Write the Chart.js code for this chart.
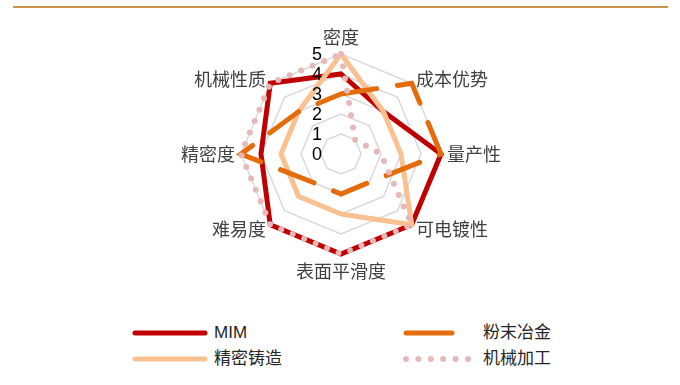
<!DOCTYPE html>
<html>
<head>
<meta charset="utf-8">
<script src="https://cdn.jsdelivr.net/npm/chart.js@4.4.1/dist/chart.umd.min.js"></script>
<style>
  body { margin: 0; background: #fff; }
  #wrap { position: relative; width: 680px; height: 385px; overflow: hidden;
          font-family: "Liberation Sans", "Noto Sans CJK SC", sans-serif; }
  #rule { position: absolute; left: 13px; top: 6px; width: 655px; height: 2px; background: #c9954c; }
  #radar { position: absolute; left: 0; top: 0; }
  .key { position: absolute; }
  .key-text { position: absolute; font-size: 17px; color: #262626; line-height: 20px; white-space: nowrap; }
</style>
</head>
<body>
<div id="wrap">
  <div id="rule"></div>
  <canvas id="radar" width="680" height="310"></canvas>
  <div id="legend"></div>
</div>
<script>
// 8 evaluation dimensions, clockwise from the top
const axisLabels = ['密度', '成本优势', '量产性', '可电镀性', '表面平滑度', '难易度', '精密度', '机械性质'];
const scoreTicks = [0, 1, 2, 3, 4, 5];

const seriesNames = ['MIM', '粉末冶金', '精密铸造', '机械加工'];
const mimScores = [4, 3, 5, 5, 5, 5, 4, 5];
const powderScores = [3, 5, 5, 2, 2, 2, 5, 3];
const castingScores = [5, 3, 3, 5, 3, 3, 3, 3];
const machiningScores = [5, 1, 2, 5, 5, 5, 5, 5];

const RED = '#c00000';
const ORANGE = '#e46c0a';
const PEACH = '#fac090';
const PINK = '#e6b9b8';

// axis names around the web + score numbers up the top spoke
const axisText = {
  id: 'axisText',
  afterDatasetsDraw(chart) {
    const r = chart.scales.r;
    const ctx = chart.ctx;
    ctx.save();
    ctx.font = '18px "Noto Sans CJK SC"';
    ctx.fillStyle = '#404040';
    axisLabels.forEach((label, i) => {
      const a = r.getIndexAngle(i);
      const s = Math.sin(a), c = Math.cos(a);
      const vertical = Math.abs(s) < 0.01;
      const pad = vertical ? 8 : 6;
      const p = r.getPointPosition(i, r.drawingArea + pad);
      ctx.textAlign = vertical ? 'center' : (s > 0 ? 'left' : 'right');
      ctx.textBaseline = c > 0.99 ? 'bottom' : (c < -0.99 ? 'top' : 'middle');
      ctx.fillText(label, p.x, p.y);
    });

    ctx.font = '18px "Liberation Sans"';
    ctx.fillStyle = '#000';
    ctx.textAlign = 'center';
    ctx.textBaseline = 'middle';
    scoreTicks.forEach(v => {
      const d = r.getDistanceFromCenterForValue(v);
      ctx.fillText(String(v), r.xCenter - 24, r.yCenter - d + 1);
    });
    ctx.restore();
  }
};

new Chart(document.getElementById('radar'), {
  type: 'radar',
  data: {
    labels: axisLabels,
    datasets: [
      { label: seriesNames[0], data: mimScores, borderColor: RED, borderWidth: 5, order: 4 },
      { label: seriesNames[1], data: powderScores, borderColor: ORANGE, borderWidth: 5,
        borderDash: [36, 21], borderCapStyle: 'round', order: 2 },
      { label: seriesNames[2], data: castingScores, borderColor: PEACH, borderWidth: 5,
        borderJoinStyle: 'round', order: 3 },
      { label: seriesNames[3], data: machiningScores, borderColor: PINK, borderWidth: 6,
        borderDash: [0, 12.4], borderCapStyle: 'round', order: 1 }
    ]
  },
  options: {
    responsive: false,
    animation: false,
    devicePixelRatio: 1,
    layout: { padding: { left: 241, right: 239, top: 54, bottom: 56 } },
    elements: {
      line: { fill: false, tension: 0 },
      point: { radius: 0, hoverRadius: 0 }
    },
    plugins: {
      legend: { display: false },
      tooltip: { enabled: false }
    },
    scales: {
      r: {
        min: 0,
        max: 5,
        ticks: { display: false, stepSize: 1 },
        grid: { color: '#d9d9d9', lineWidth: 1.5 },
        angleLines: { display: false },
        pointLabels: { display: false }
      }
    }
  },
  plugins: [axisText]
});

// legend below the chart, two columns
const legendStyles = [
  { color: RED, width: 5, dash: null },
  { color: ORANGE, width: 5, dash: null },
  { color: PEACH, width: 5, dash: null },
  { color: PINK, width: 6, dash: '0 12.4' }
];
const legendSlots = [
  { x: 135, y: 333, len: 70, tx: 214 },
  { x: 406, y: 333, len: 46, tx: 483 },
  { x: 135, y: 359, len: 70, tx: 214 },
  { x: 406, y: 359, len: 62, tx: 483 }
];
const legend = document.getElementById('legend');
seriesNames.forEach((name, i) => {
  const st = legendStyles[i], sl = legendSlots[i];
  const dash = st.dash ? ` stroke-dasharray="${st.dash}"` : '';
  legend.insertAdjacentHTML('beforeend',
    `<svg class="key" style="left:${sl.x - 5}px;top:${sl.y - 5}px" width="${sl.len + 10}" height="10">` +
    `<line x1="5" y1="5" x2="${sl.len + 5}" y2="5" stroke="${st.color}" stroke-width="${st.width}" stroke-linecap="round"${dash}/></svg>` +
    `<div class="key-text" style="left:${sl.tx}px;top:${sl.y - 10}px">${name}</div>`);
});
</script>
</body>
</html>
